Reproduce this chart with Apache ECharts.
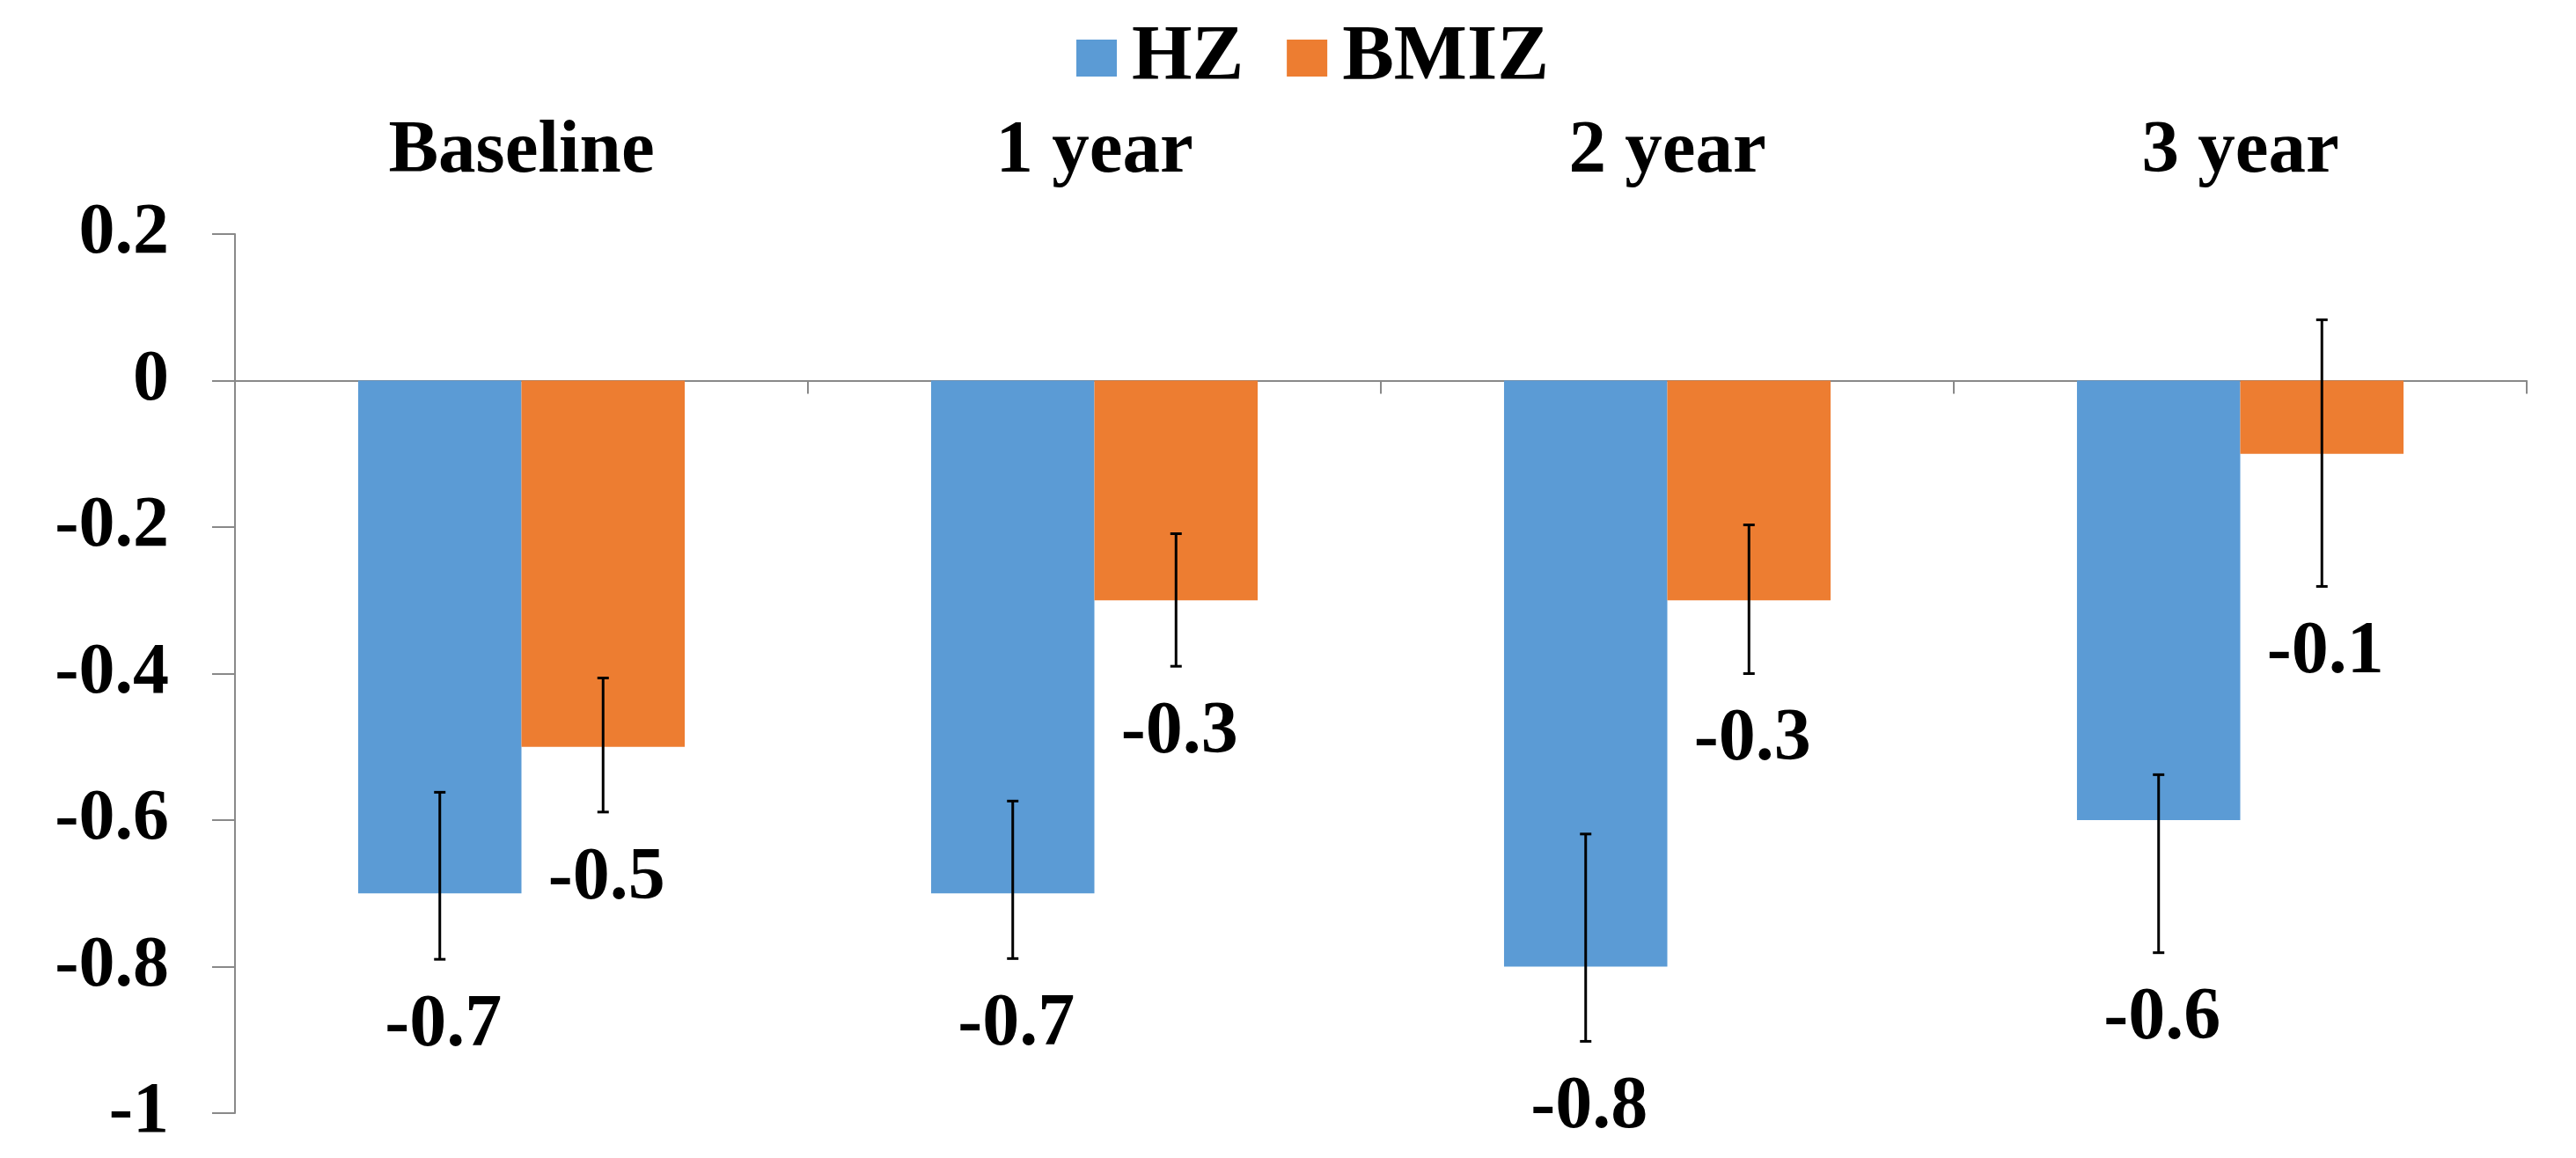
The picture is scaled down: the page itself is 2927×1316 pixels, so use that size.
<!DOCTYPE html>
<html>
<head>
<meta charset="utf-8">
<script src="https://cdn.jsdelivr.net/npm/echarts@6/dist/echarts.min.js"></script>
<style>
html,body{margin:0;padding:0;background:#fff;}
#chart{width:2927px;height:1316px;}
</style>
</head>
<body>
<div id="chart"></div>
<script>
// ---- data ----
const categories = ['Baseline', '1 year', '2 year', '3 year'];
const seriesNames = ['HZ', 'BMIZ'];
const hzValues = [-0.7, -0.7, -0.8, -0.6];
const bmizValues = [-0.5, -0.3, -0.3, -0.1];
const hzErrLow = [-0.790, -0.789, -0.902, -0.781];
const hzErrHigh = [-0.562, -0.574, -0.619, -0.538];
const bmizErrLow = [-0.589, -0.390, -0.400, -0.281];
const bmizErrHigh = [-0.406, -0.209, -0.197, 0.083];
const yTicks = { min: -1, max: 0.2, interval: 0.2 };

const FONT = '"Liberation Serif", "Times New Roman", serif';
const COLORS = ['#5B9BD5', '#ED7D31'];
const BAR_CAT_GAP = 0.43;

function errData(values, lows, highs) {
  return values.map((v, i) => [i, lows[i], highs[i], v]);
}

function makeErrRender(seriesPos) {
  return function (params, api) {
    const idx = api.value(0);
    const low = api.coord([idx, api.value(1)]);
    const high = api.coord([idx, api.value(2)]);
    const band = api.size([1, 0])[0];
    const barW = band * (1 - BAR_CAT_GAP) / 2;
    const x = low[0] + (seriesPos === 0 ? -barW / 2 : barW / 2);
    const cap = 6.5;
    const lineStyle = { stroke: '#000', lineWidth: 3 };
    const val = api.value(3);
    return {
      type: 'group',
      children: [
        { type: 'line', shape: { x1: x, y1: high[1], x2: x, y2: low[1] }, style: lineStyle },
        { type: 'line', shape: { x1: x - cap, y1: high[1], x2: x + cap, y2: high[1] }, style: lineStyle },
        { type: 'line', shape: { x1: x - cap, y1: low[1], x2: x + cap, y2: low[1] }, style: lineStyle },
        {
          type: 'text',
          style: {
            text: Number(val).toFixed(1),
            x: x + 4,
            y: low[1] + 76,
            align: 'center',
            verticalAlign: 'middle',
            fill: '#000',
            fontSize: 84,
            fontWeight: 'bold',
            fontFamily: FONT
          }
        }
      ]
    };
  };
}

const chart = echarts.init(document.getElementById('chart'), null, { renderer: 'canvas' });
chart.setOption({
  animation: false,
  backgroundColor: '#fff',
  color: COLORS,
  legend: {
    data: seriesNames,
    left: 1218,
    top: 17,
    icon: 'rect',
    itemWidth: 46,
    itemHeight: 42,
    itemGap: 49,
    textStyle: { fontSize: 88, fontWeight: 'bold', fontFamily: FONT, color: '#000', padding: [0, 0, 0, 12] }
  },
  grid: { left: 267, right: 56, top: 266, bottom: 51, containLabel: false },
  xAxis: [
    {
      type: 'category',
      data: categories,
      position: 'bottom',
      axisLine: { onZero: true, lineStyle: { color: '#898989', width: 2 } },
      axisTick: { show: true, length: 15, lineStyle: { color: '#898989', width: 2 } },
      axisLabel: { show: false },
      splitLine: { show: false }
    },
    {
      type: 'category',
      data: categories,
      position: 'top',
      axisLine: { show: false, onZero: false },
      axisTick: { show: false },
      axisLabel: { show: true, margin: 50, fontSize: 85, fontWeight: 'bold', fontFamily: FONT, color: '#000' },
      splitLine: { show: false }
    }
  ],
  yAxis: {
    type: 'value',
    min: yTicks.min,
    max: yTicks.max,
    interval: yTicks.interval,
    axisLine: { show: true, lineStyle: { color: '#898989', width: 2 } },
    axisTick: { show: true, length: 26, lineStyle: { color: '#898989', width: 2 } },
    splitLine: { show: false },
    axisLabel: {
      margin: 75,
      fontSize: 82,
      fontWeight: 'bold',
      fontFamily: FONT,
      color: '#000',
      formatter: v => String(Number(v.toFixed(1)))
    }
  },
  series: [
    { name: 'HZ', type: 'bar', data: hzValues, barGap: '0%', barCategoryGap: (BAR_CAT_GAP * 100) + '%', xAxisIndex: 0 },
    { name: 'BMIZ', type: 'bar', data: bmizValues, barGap: '0%', barCategoryGap: (BAR_CAT_GAP * 100) + '%', xAxisIndex: 0 },
    { name: 'HZ error', type: 'custom', xAxisIndex: 0, renderItem: makeErrRender(0), data: errData(hzValues, hzErrLow, hzErrHigh), encode: { x: 0, y: [1, 2] }, z: 5, clip: false },
    { name: 'BMIZ error', type: 'custom', xAxisIndex: 0, renderItem: makeErrRender(1), data: errData(bmizValues, bmizErrLow, bmizErrHigh), encode: { x: 0, y: [1, 2] }, z: 5, clip: false }
  ]
});
</script>
</body>
</html>
